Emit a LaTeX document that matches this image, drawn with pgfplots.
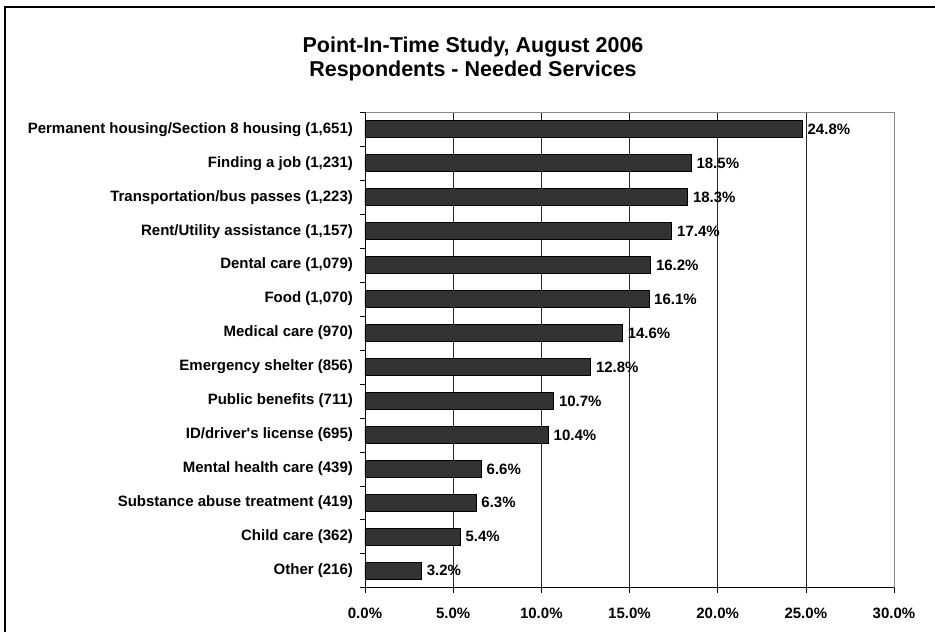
\documentclass[border=0pt]{standalone}
\usepackage{fontspec}
\setmainfont{Liberation Sans}
\usepackage{pgfplots}
\pgfplotsset{compat=1.18}
\definecolor{barfill}{HTML}{333333}
\definecolor{boxgray}{HTML}{888888}

\begin{document}
\begin{tikzpicture}[x=1pt,y=1pt]
\useasboundingbox (0,0) rectangle (935,632);
% outer chart frame (cut at the right and bottom)
\draw[line width=1.4pt] (5,-5) -- (5,625) -- (940,625);
\node[anchor=base,font=\bfseries\fontsize{21.5}{24}\selectfont] at (473,579) {Point-In-Time Study, August 2006};
\node[anchor=base,font=\bfseries\fontsize{21.5}{24}\selectfont] at (473,555) {Respondents - Needed Services};

\begin{axis}[
    at={(365pt,44.3pt)}, anchor=south west,
    scale only axis,
    width=529pt, height=475.4pt,
    xbar,
    bar width=17pt,
    xmin=0, xmax=30,
    ymin=-0.5, ymax=13.5,
    xtick={0,5,...,30},
    ytick={0,...,13},
    yticklabels={{Other (216)},{Child care (362)},{Substance abuse treatment (419)},{Mental health care (439)},{ID/driver\textquotesingle s license (695)},{Public benefits (711)},{Emergency shelter (856)},{Medical care (970)},{Food (1,070)},{Dental care (1,079)},{Rent/Utility assistance (1,157)},{Transportation/bus passes (1,223)},{Finding a job (1,231)},{Permanent housing/Section 8 housing (1,651)}},
    minor ytick={-0.5,0.5,...,13.5},
    minor xtick={0,5,...,30},
    tick align=outside,
    xtick pos=bottom, ytick pos=left,
    major tick length=0pt,
    minor tick length=5pt,
    minor tick style={black, line width=0.6pt},
    xmajorgrids,
    major grid style={black!85, line width=0.6pt},
    axis line style={boxgray, line width=0.8pt},
    /pgf/number format/assume math mode=true,
    xticklabel={\pgfmathprintnumber[fixed,fixed zerofill,precision=1]{\tick}\%},
    tick label style={font=\bfseries\fontsize{15}{18}\selectfont, text=black},
    x tick label style={yshift=-16.5pt},
    y tick label style={xshift=-8.6pt},
    nodes near coords={\pgfmathprintnumber[fixed,fixed zerofill,precision=1,assume math mode=true]{\pgfplotspointmeta}\%},
    nodes near coords style={font=\bfseries\fontsize{15}{18}\selectfont, anchor=west, inner sep=0pt, xshift=5pt},
    after end axis/.code={
        \draw[black, line width=0.8pt] (rel axis cs:0,1) -- (rel axis cs:0,0) -- (rel axis cs:1,0);
    },
]
\addplot[fill=barfill, draw=black, line width=0.7pt] coordinates {
    (3.2,0)
    (5.4,1)
    (6.3,2)
    (6.6,3)
    (10.4,4)
    (10.7,5)
    (12.8,6)
    (14.6,7)
    (16.1,8)
    (16.2,9)
    (17.4,10)
    (18.3,11)
    (18.5,12)
    (24.8,13)
};
\end{axis}
\end{tikzpicture}
\end{document}
